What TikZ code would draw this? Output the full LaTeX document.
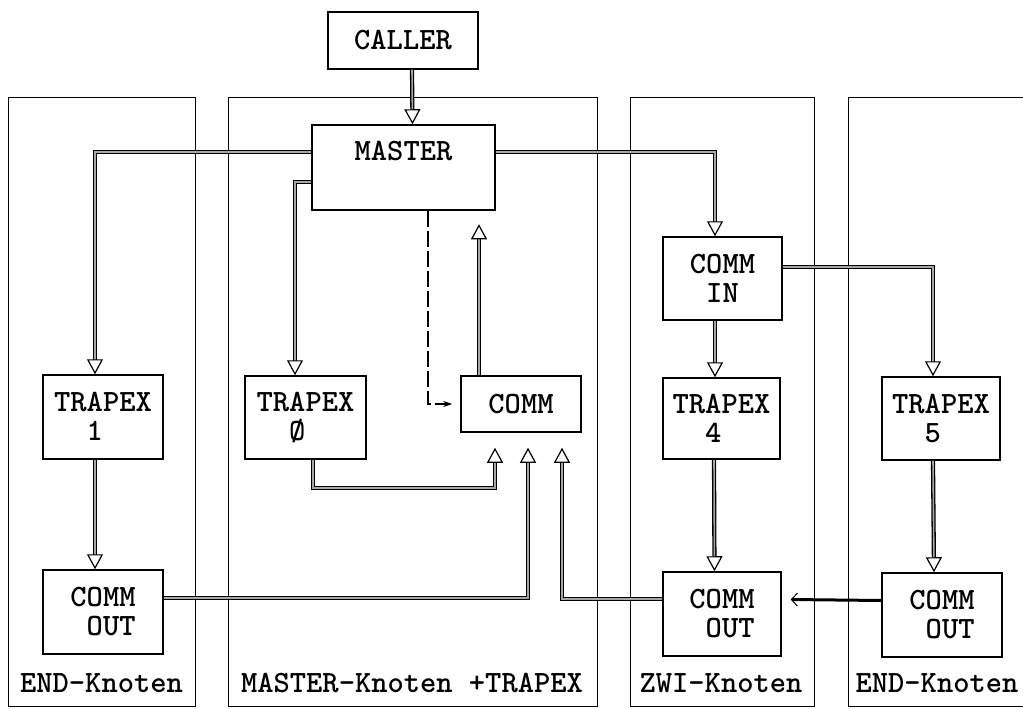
\documentclass[tikz,border=0pt]{standalone}
\usepackage{fontspec}
\newfontfamily\heavytt{lmmonolt10-bold.otf}
\usetikzlibrary{arrows.meta,calc}
\tikzset{>=Stealth,every node/.style={font=\heavytt\fontsize{31}{29}\selectfont},
  box/.style={draw,line width=1.5pt,inner sep=0pt,align=left,fill=white},
  region/.style={draw,line width=1pt,inner sep=0pt,anchor=north west,minimum height=609},
  feed/.style={double=gray!70,double distance=1.6pt,line width=1.3pt,-{Triangle[open,length=15pt,width=16pt,line width=1.2pt]}},
  ctrl/.style={line width=2pt,dash pattern=on 16pt off 4pt,-{Stealth[length=9pt,width=6pt]}},
  back/.style={line width=3pt,-{Straight Barb[length=6pt,width=13pt,line width=1pt]}}}

\begin{document}
\begin{tikzpicture}[x=1pt,y=-1pt]
\useasboundingbox (0,0) rectangle (1023,709);
% Knoten
\node[region,minimum width=187] (colL) at (8,97) {};
\node[region,minimum width=369] (colM) at (228,97) {};
\node[region,minimum width=184] (colZ) at (630,97) {};
\node[region,minimum width=178] (colR) at (848,97) {};
\node (labL) at (101.5,683) {END-Knoten};
\node (labM) at (412,683) {MASTER-Knoten +TRAPEX};
\node (labZ) at (721,683) {ZWI-Knoten};
\node (labR) at (937,683) {END-Knoten};
% Prozesse
\node[box,minimum width=150,minimum height=57] (caller) at (403,40.5) {CALLER};
\node[box,minimum width=183,minimum height=85,label={[anchor=center,yshift=-27pt]north:MASTER}] (master) at (403.5,167.5) {};
\node[box,minimum width=120,minimum height=84] (trapA) at (103,417) {TRAPEX\\\phantom{00}1};
\node[box,minimum width=120,minimum height=84] (outA) at (103,612) {COMM\\\phantom{0}OUT};
\node[box,minimum width=121,minimum height=83] (trapO) at (305.5,417.5) {TRAPEX\\\phantom{00}Ø};
\node[box,minimum width=120,minimum height=56] (comm) at (521,404) {COMM};
\node[box,minimum width=119,minimum height=83] (commin) at (722.5,278.5) {COMM\\\phantom{0}IN};
\node[box,minimum width=117,minimum height=81] (trapD) at (721.5,418.5) {TRAPEX\\\phantom{00}4};
\node[box,minimum width=118,minimum height=84] (outD) at (722,614) {COMM\\\phantom{0}OUT};
\node[box,minimum width=118,minimum height=83] (trapE) at (941,418.5) {TRAPEX\\\phantom{00}5};
\node[box,minimum width=120,minimum height=84] (outE) at (942,615) {COMM\\\phantom{0}OUT};
% Verbindungen
\draw[feed] ([xshift=9pt]caller.south) -- ([xshift=9pt]master.north);
\draw[feed] ([yshift=15.5pt]master.west) -| ([xshift=-8pt]trapA.north);
\draw[feed] ([yshift=-14.5pt]master.west) -| ([xshift=-10.5pt]trapO.north);
\draw[feed] ([yshift=15.5pt]master.east) -| ([xshift=-7.5pt]commin.north);
\draw[feed] ([yshift=11.5pt]commin.east) -| ([xshift=-8pt]trapE.north);
\draw[feed] ([xshift=-7.5pt]commin.south) -- ([xshift=-6.5pt]trapD.north);
\draw[feed] ([xshift=-8pt]trapA.south) -- ([xshift=-8pt]outA.north);
\draw[feed] ([xshift=-7.5pt]trapD.south) -- ([xshift=-7.5pt]outD.north);
\draw[feed] ([xshift=-8pt]trapE.south) -- ([xshift=-8pt]outE.north);
\draw[feed] ([xshift=7.5pt]trapO.south) -- ++(0,28) -| ([xshift=-26pt,yshift=-15pt]comm.south);
\draw[feed] ([yshift=14pt]outA.east) -| ([xshift=7pt,yshift=-15pt]comm.south);
\draw[feed] ([yshift=15pt]outD.west) -| ([xshift=41pt,yshift=-15pt]comm.south);
\draw[feed] ([xshift=-42pt]comm.north) -- ++(0,-151);
\draw[ctrl] ([xshift=24.5pt]master.south) |- ([xshift=-8pt]comm.west);
\draw[back] ([yshift=14.5pt]outE.west) -- ([xshift=9pt,yshift=14.5pt]outD.east);
\end{tikzpicture}
\end{document}
